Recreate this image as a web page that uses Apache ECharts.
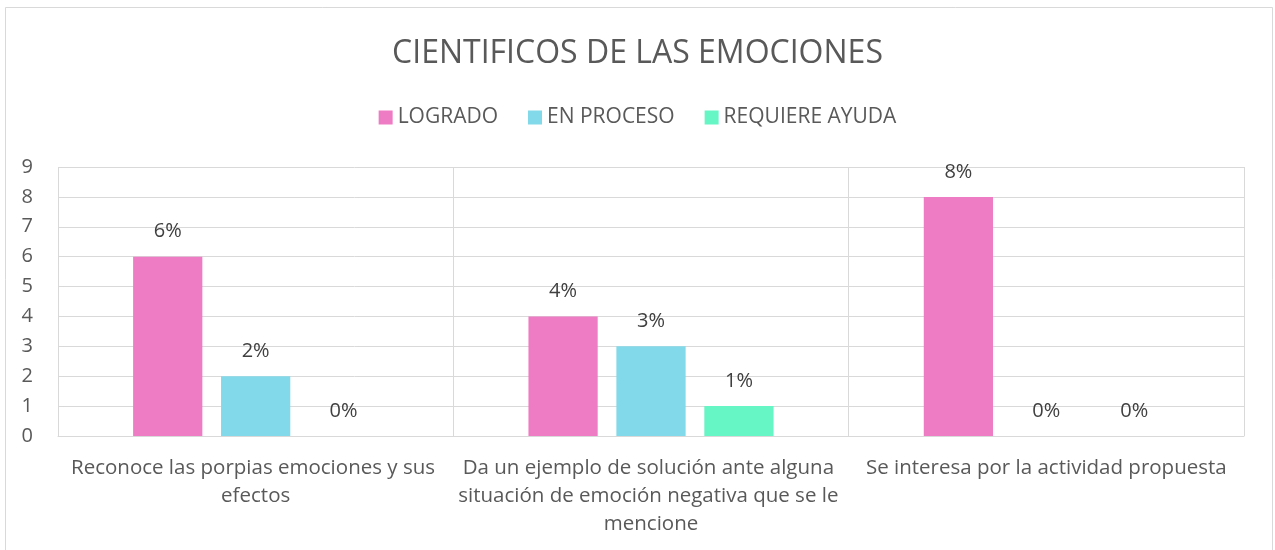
<!DOCTYPE html>
<html>
<head>
<meta charset="utf-8">
<script src="https://cdn.jsdelivr.net/npm/echarts@6/dist/echarts.min.js"></script>
<style>
    html, body { margin: 0; padding: 0; background: #fff; }
    #chart { width: 1275px; height: 550px; }
</style>
</head>
<body>
<div id="chart"></div>
<script>
(function () {
    'use strict';

    var titleText = 'CIENTIFICOS DE LAS EMOCIONES';
    var categories = [
        'Reconoce las porpias emociones y sus efectos',
        'Da un ejemplo de solución ante alguna situación de emoción negativa que se le mencione',
        'Se interesa por la actividad propuesta'
    ];
    var seriesNames = ['LOGRADO', 'EN PROCESO', 'REQUIERE AYUDA'];
    var logrado = [6, 4, 8];
    var enProceso = [2, 3, 0];
    var requiereAyuda = [0, 1, 0];
    var colors = ['#EE7CC4', '#82D9E9', '#66F5C4'];

    var font = 'Open Sans';
    var textColor = '#595959';
    var gridColor = '#D9D9D9';

    var makeSeries = function (name, values, color) {
        return {
            name: name,
            type: 'bar',
            data: values,
            barGap: '27%',
            barCategoryGap: '38%',
            itemStyle: { color: color },
            label: {
                show: true,
                position: 'top',
                distance: 15,
                formatter: function (p) { return p.value + '%'; },
                color: '#404040',
                fontFamily: font,
                fontSize: 20
            },
            animation: false
        };
    };

    var chart = echarts.init(document.getElementById('chart'));
    chart.setOption({
        backgroundColor: '#ffffff',
        title: {
            text: titleText,
            left: 'center',
            top: 33,
            textStyle: { color: textColor, fontFamily: font, fontSize: 32, fontWeight: 'normal' }
        },
        legend: {
            top: 102,
            left: 'center',
            itemWidth: 14,
            itemHeight: 14,
            itemGap: 30,
            icon: 'rect',
            data: seriesNames,
            textStyle: { color: textColor, fontFamily: font, fontSize: 21 }
        },
        grid: { left: 58, right: 31, top: 167, bottom: 114, containLabel: false },
        xAxis: {
            type: 'category',
            data: categories,
            axisLine: { show: true, lineStyle: { color: gridColor } },
            axisTick: { show: false },
            splitLine: { show: true, lineStyle: { color: gridColor, width: 1 } },
            axisLabel: {
                interval: 0,
                margin: 18,
                color: textColor,
                fontFamily: font,
                fontSize: 20.5,
                lineHeight: 28,
                width: 412,
                overflow: 'break'
            }
        },
        yAxis: {
            type: 'value',
            min: 0,
            max: 9,
            interval: 1,
            axisLine: { show: false },
            axisTick: { show: false },
            splitLine: { lineStyle: { color: gridColor, width: 1 } },
            axisLabel: { color: textColor, fontFamily: font, fontSize: 20, margin: 25 }
        },
        graphic: [{
            type: 'rect',
            shape: { x: 5.5, y: 7.5, width: 1267, height: 600 },
            style: { fill: 'none', stroke: gridColor, lineWidth: 1 },
            silent: true
        }],
        series: [
            makeSeries(seriesNames[0], logrado, colors[0]),
            makeSeries(seriesNames[1], enProceso, colors[1]),
            makeSeries(seriesNames[2], requiereAyuda, colors[2])
        ]
    });
})();
</script>
</body>
</html>
